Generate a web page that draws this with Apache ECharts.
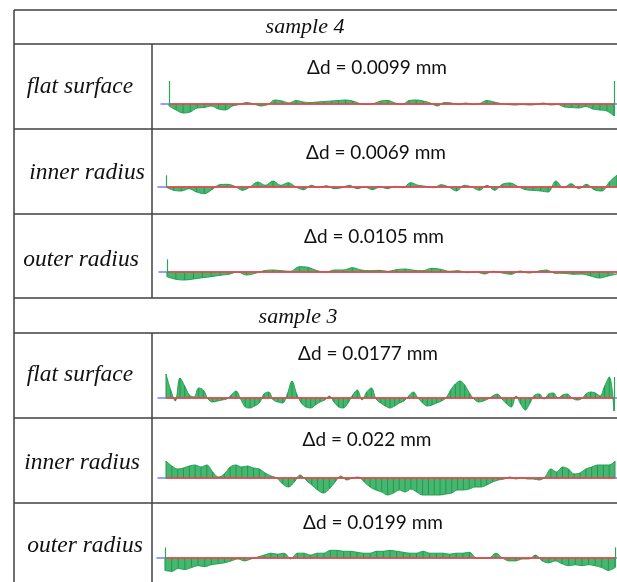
<!DOCTYPE html>
<html>
<head>
<meta charset="utf-8">
<script src="https://cdn.jsdelivr.net/npm/echarts@6/dist/echarts.min.js"></script>
<style>
  html, body { margin: 0; padding: 0; background: #fff; }
  #chart { width: 617px; height: 582px; }
</style>
</head>
<body>
<div id="chart"></div>
<script>
  // 表格文字
  const sampleNames = ['sample 4', 'sample 3'];
  const surfaceNames = ['flat surface', 'inner radius', 'outer radius'];
  const deltaD = ['0.0099', '0.0069', '0.0105', '0.0177', '0.022', '0.0199'];

  // 轮廓偏差 (向上为正)
  const flat4 = [-2, -6, -9, -8, -4, -3.5, -2, -5, -6, -2, -0.5, 1.5, 0, -2, -0.5, 4, 3, 1, 3.5, 2, 1.5, 2, 2.5, 3, 3.5, 4, 3, 0.5, -0.5, 0.5, 3, 3.5, 1, -0.5, 3.5, 4, 3, 1, -2, 1.5, 1, -0.5, 1, -0.5, 0.5, 3.5, 2, 0.5, -0.5, -1, -0.5, -1, -0.5, 1, -1, -0.5, -3, -3.5, -4, -2.5, -5, -6, -7, -12];
  const inner4 = [0, -3.3, -4, -1.7, -5, -6.7, -2.7, 2.3, 2.7, 0.7, -3.3, 0, 5, 1.7, 6, 1.7, 4.3, 0, -2.7, 1.7, -0.7, 1.3, -1.7, -0.7, 1.7, -1.7, 0, -2.7, 0, -1.7, 0.7, -0.7, 4.3, 1.7, 0.7, -0.7, 2.3, 0, -4, 1.7, 0, -3.3, 1.7, -3.3, 2.7, 4, 0.7, -2.7, -3.3, -4, -5, 6, -0.7, 3.3, -1.7, 2.7, -2.7, -4, 5, 12];
  const outer4 = [-4.7, -7.3, -8, -7, -5.7, -4.7, -3.3, -2.3, 0, -3, -1.3, 1.3, 2, 1.3, 0.7, 5.3, 4.7, 1.3, 0, 2, 2, 4.3, 2, 1.3, 1.7, 0.7, 2.3, 3, 1.7, 1.3, 3.7, 2.7, 0.7, 1.3, -0.7, 0, -2, 0.7, -1, -2.3, 1, -1, 0.7, 2, -1.3, -1.3, -2.3, -2, -4, -6, -4, -2];
  const flat3 = [24, 8, -3, 20, 12, 3, 1, 10, 8, -1, -4, -3, -2, -1, 3, 7, -1, -9, -10, -8, -5, 4, 6, -2, -4, -5, 4, 17, 4, -5, -9, -10, -7, -4, -2, 2, -4, -9, -10, -5, 3, 8, -2, 6, 10, -1, -5, -8, -10, -8, -5, -3, 2, 6, 0, -5, -8, -7, -5, -3, 0, 8, 14, 17, 13, 5, -1, -4, -3, -1, 2, 4, -1, -6, -9, 2, -6, -12, -5, 3, 4, -1, 4, 5, 0, 3, 4, 0, -2, -1, 4, 6, 5, 2, 12, 21, -13];
  const inner3 = [17, 12, 9, 10, 12, 13, 11, 13, 6, 1, 4, 11, 13, 11, 12, 10, 9, 5, 2, 0, -6, -9, -4, 3, -2, -7, -12, -15, -11, -4, 2, -2, 0, 1, -4, -9, -12, -14, -17, -15, -12, -14, -11, -14, -17, -17, -17, -17, -16, -15, -12, -12, -11, -9, -9, -7, -4, -2, -1, 1, -1, 0, -1, -1, -2, 1, 9, 6, 11, 9, 4, 5, 9, 11, 13, 13, 13, 17];
  const outer3 = [-13, -14, -11, -12, -10, -8, -9, -7, -6, -5, -3, -1, -3, -1, 1, 3, 5, 4, 5, -1, 5, 5, 3, 5, 5, 8, 8, 7, 7, 6, 5, 5, 7, 7, 8, 7, 6, 5, 5, 7, 5, 5, 5, 4, 5, 5, 6, 0, -0.5, 0, 5, 0, -3, -3, -1, -1, 3, -3, -5, -3, -6, -8, -7, -8, -7, -8, -10, -13, -10];
  // 两端竖线顶点 [起点, 终点]
  const edgeMarks = [[23, 23], [11.7, null], [12.7, null], [null, 21], [null, null], [11, 11]];

  const profiles = [flat4, inner4, outer4, flat3, inner3, outer3];

  // 版面位置
  const W = 617;
  const cells = [
    { start: 169, end: 614, base: 104, tx: 377, ty: 68 },
    { start: 166, end: 617, base: 187, tx: 376, ty: 153 },
    { start: 167, end: 617, base: 272, tx: 374, ty: 237 },
    { start: 166, end: 614, base: 398, tx: 368, ty: 354 },
    { start: 166, end: 615, base: 478, tx: 367, ty: 440 },
    { start: 165, end: 615, base: 559, tx: 373, ty: 523 },
  ];
  const rowLabelPos = [[80, 87], [87, 173], [81, 260], [80, 375], [82, 463], [85, 546]];
  const samplePos = [[305, 27], [298, 317]];
  const hLines = [10, 44, 129, 214, 298, 333, 418, 503];

  const lineColor = '#404040';
  const green = '#239a4f';

  const chart = echarts.init(document.getElementById('chart'));

  const grids = [], xAxes = [], yAxes = [], series = [];
  profiles.forEach((vals, k) => {
    const c = cells[k];
    const n = vals.length - 1;
    const per = n / (c.end - c.start);
    grids.push({ left: c.start - 8, right: 0, top: c.base - 25, height: 50 });
    xAxes.push({
      type: 'value', gridIndex: k,
      min: -8 * per, max: n + (W - c.end) * per,
      axisLine: { show: true, onZero: true, lineStyle: { color: '#7080ff', width: 1.5 } },
      axisTick: { show: false }, axisLabel: { show: false }, splitLine: { show: false },
    });
    yAxes.push({ type: 'value', gridIndex: k, min: -25, max: 25, show: false });

    const pts = vals.map((v, i) => [i, v]);
    const marks = [
      [{ coord: [0, 0] }, { coord: [n, 0], lineStyle: { color: '#ff3b3b', width: 1.5, type: 'solid' } }],
    ];
    const [s, e] = edgeMarks[k];
    if (s !== null) marks.push([{ coord: [0, Math.min(vals[0], 0)] }, { coord: [0, s], lineStyle: { color: '#2aa85a', width: 1.2, type: 'solid' } }]);
    if (e !== null) marks.push([{ coord: [n, Math.min(vals[n], 0)] }, { coord: [n, e], lineStyle: { color: '#2aa85a', width: 1.2, type: 'solid' } }]);

    series.push({
      type: 'line', xAxisIndex: k, yAxisIndex: k, data: pts,
      smooth: 0.35, symbol: 'none', animation: false,
      lineStyle: { color: '#28a055', width: 1 },
      areaStyle: { color: '#46b670', opacity: 1 },
      z: 2,
    });
    series.push({
      type: 'bar', xAxisIndex: k, yAxisIndex: k, data: pts,
      barWidth: 1, itemStyle: { color: green }, animation: false, z: 3,
      markLine: {
        silent: true, symbol: ['none', 'none'], label: { show: false },
        animation: false, data: marks,
      },
    });
  });

  const graphic = [];
  hLines.forEach((y) => {
    graphic.push({ type: 'line', shape: { x1: 14, y1: y, x2: W, y2: y }, style: { stroke: lineColor, lineWidth: 1.5 }, z: 10 });
  });
  graphic.push({ type: 'line', shape: { x1: 14, y1: 10, x2: 14, y2: 582 }, style: { stroke: lineColor, lineWidth: 1.5 }, z: 10 });
  graphic.push({ type: 'line', shape: { x1: 152, y1: 44, x2: 152, y2: 298 }, style: { stroke: lineColor, lineWidth: 1.5 }, z: 10 });
  graphic.push({ type: 'line', shape: { x1: 152, y1: 333, x2: 152, y2: 582 }, style: { stroke: lineColor, lineWidth: 1.5 }, z: 10 });

  sampleNames.forEach((t, i) => {
    graphic.push({ type: 'text', x: samplePos[i][0], y: samplePos[i][1], style: { text: t, font: 'italic 22px "Liberation Serif"', fill: '#111', align: 'center', verticalAlign: 'middle' }, z: 10 });
  });
  rowLabelPos.forEach((p, i) => {
    graphic.push({ type: 'text', x: p[0], y: p[1], style: { text: surfaceNames[i % 3], font: 'italic 23.5px "Liberation Serif"', fill: '#111', align: 'center', verticalAlign: 'middle' }, z: 10 });
  });
  cells.forEach((c, i) => {
    graphic.push({ type: 'text', x: c.tx, y: c.ty, style: { text: 'Δd = ' + deltaD[i] + ' mm', font: '19px Lato', fill: '#111', align: 'center', verticalAlign: 'middle' }, z: 10 });
  });

  chart.setOption({
    animation: false,
    grid: grids,
    xAxis: xAxes,
    yAxis: yAxes,
    series: series,
    graphic: graphic,
  });
</script>
</body>
</html>
